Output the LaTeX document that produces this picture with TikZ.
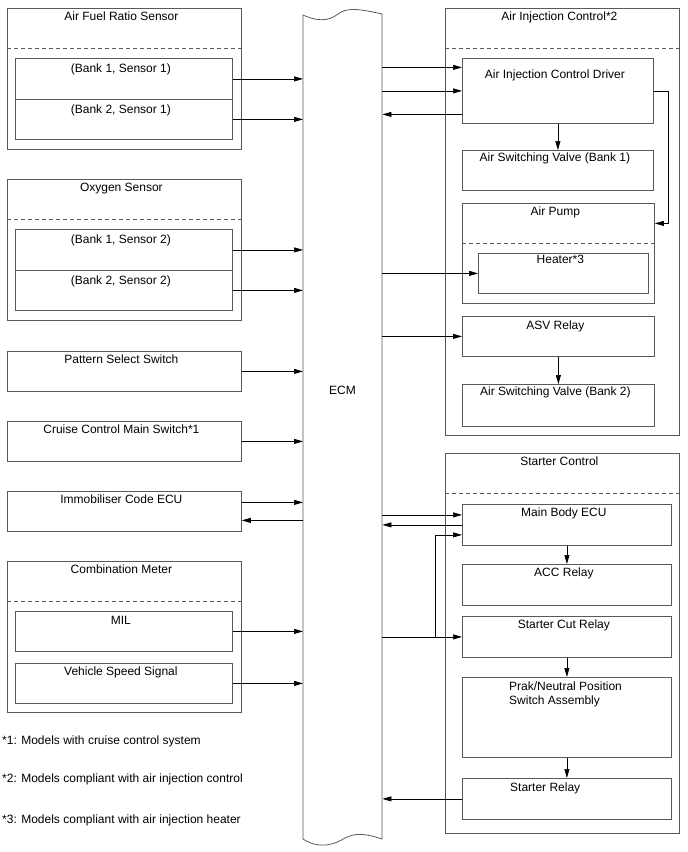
\documentclass[tikz,border=0pt]{standalone}
\usepackage{fontspec}
\setmainfont{Liberation Sans}
\usetikzlibrary{arrows.meta}
\tikzset{
  blk/.style={draw=black!65,line width=0.8pt,anchor=north west,inner sep=0pt},
  lbl/.style={anchor=north,inner sep=0pt,yshift=#1,xshift=-3pt},
  lbl/.default=-4pt,
  lft/.style={anchor=north west,inner sep=0pt,align=left,xshift=47pt,yshift=-5pt},
  sig/.style={-{Triangle[length=9pt,width=5pt]},line width=0.7pt},
  sep/.style={draw=black!65,line width=0.8pt,dash pattern=on 4pt off 3pt}
}
\begin{document}
\begin{tikzpicture}[x=1pt,y=-1pt,font=\fontsize{12pt}{14pt}\selectfont]
\useasboundingbox (0,0) rectangle (688,852);
% inputs
\node[blk,minimum width=234pt,minimum height=141pt,label={[lbl]north:Air Fuel Ratio Sensor}] (afr) at (7,8) {};
\draw[sep] ([yshift=-40pt]afr.north west) -- ([yshift=-40pt]afr.north east);
\node[blk,minimum width=217pt,minimum height=41pt,label={[lbl=-6pt]north:(Bank 1, Sensor 1)}] (b11) at (15,58) {};
\node[blk,minimum width=217pt,minimum height=40pt,label={[lbl=-6pt]north:(Bank 2, Sensor 1)}] (b21) at (15,99) {};
\node[blk,minimum width=234pt,minimum height=141pt,label={[lbl]north:Oxygen Sensor}] (oxs) at (7,179) {};
\draw[sep] ([yshift=-40pt]oxs.north west) -- ([yshift=-40pt]oxs.north east);
\node[blk,minimum width=217pt,minimum height=41pt,label={[lbl=-6pt]north:(Bank 1, Sensor 2)}] (b12) at (15,229) {};
\node[blk,minimum width=217pt,minimum height=40pt,label={[lbl=-6pt]north:(Bank 2, Sensor 2)}] (b22) at (15,270) {};
\node[blk,minimum width=234pt,minimum height=40pt,label={[lbl]north:Pattern Select Switch}] (pss) at (7,351) {};
\node[blk,minimum width=234pt,minimum height=40pt,label={[lbl]north:Cruise Control Main Switch*1}] (ccs) at (7,421) {};
\node[blk,minimum width=234pt,minimum height=40pt,label={[lbl]north:Immobiliser Code ECU}] (imm) at (7,491) {};
\node[blk,minimum width=234pt,minimum height=151pt,label={[lbl]north:Combination Meter}] (cmb) at (7,561) {};
\draw[sep] ([yshift=-40pt]cmb.north west) -- ([yshift=-40pt]cmb.north east);
\node[blk,minimum width=217pt,minimum height=40pt,label={[lbl=-5pt]north:MIL}] (mil) at (15,611) {};
\node[blk,minimum width=217pt,minimum height=40pt,label={[lbl]north:Vehicle Speed Signal}] (vss) at (15,663) {};
% ECM
\node[minimum width=79pt,minimum height=824pt,anchor=north west,inner sep=0pt] (ecm) at (303,15) {};
\draw[draw=black!65,line width=0.8pt] (303,15) .. controls (316,21) and (328,22) .. (338,14)
  .. controls (346,8) and (356,8) .. (382,14) -- (382,839)
  .. controls (364,833) and (355,833) .. (345,838)
  .. controls (335,844) and (320,850) .. (303,839) -- cycle;
\node (ecmtxt) at (342.5,390) {ECM};
% air injection
\node[blk,minimum width=234pt,minimum height=427pt,label={[lbl]north:Air Injection Control*2}] (aic) at (445,8) {};
\draw[sep] ([yshift=-40pt]aic.north west) -- ([yshift=-40pt]aic.north east);
\node[blk,minimum width=191pt,minimum height=65pt,label={[lbl=-12pt]north:Air Injection Control Driver}] (drv) at (462,58) {};
\node[blk,minimum width=191pt,minimum height=40pt,label={[lbl=-3pt]north:Air Switching Valve (Bank 1)}] (asv1) at (462,150) {};
\node[blk,minimum width=192pt,minimum height=100pt,label={[lbl]north:Air Pump}] (pump) at (462,203) {};
\draw[sep] ([yshift=-40pt]pump.north west) -- ([yshift=-40pt]pump.north east);
\node[blk,minimum width=170pt,minimum height=40pt,label={[lbl=-2pt]north:Heater*3}] (htr) at (478,253) {};
\node[blk,minimum width=192pt,minimum height=40pt,label={[lbl=-5pt]north:ASV Relay}] (asvr) at (462,316) {};
\node[blk,minimum width=192pt,minimum height=42pt,label={[lbl=-3pt]north:Air Switching Valve (Bank 2)}] (asv2) at (462,384) {};
% starter
\node[blk,minimum width=234pt,minimum height=380pt,label={[lbl]north:Starter Control}] (stc) at (445,453) {};
\draw[sep] ([yshift=-40pt]stc.north west) -- ([yshift=-40pt]stc.north east);
\node[blk,minimum width=209pt,minimum height=41pt,label={[lbl]north:Main Body ECU}] (mb) at (462,504) {};
\node[blk,minimum width=209pt,minimum height=41pt,label={[lbl]north:ACC Relay}] (acc) at (462,564) {};
\node[blk,minimum width=209pt,minimum height=41pt,label={[lbl]north:Starter Cut Relay}] (scr) at (462,616) {};
\node[blk,minimum width=209pt,minimum height=80pt,label={[lft]north west:Prak/Neutral Position\\Switch Assembly}] (pns) at (462,677) {};
\node[blk,minimum width=209pt,minimum height=41pt,label={[lft,xshift=1pt]north west:Starter Relay}] (sr) at (462,778) {};
% notes
\node[anchor=west,inner sep=0pt] (fn1) at (2,741) {*1: Models with cruise control system};
\node[anchor=west,inner sep=0pt] (fn2) at (2,779) {*2: Models compliant with air injection control};
\node[anchor=west,inner sep=0pt] (fn3) at (2,820) {*3: Models compliant with air injection heater};
% signals to ECM
\draw[sig] (b11.east) -- (b11.east -| ecm.west);
\draw[sig] (b21.east) -- (b21.east -| ecm.west);
\draw[sig] (b12.east) -- (b12.east -| ecm.west);
\draw[sig] (b22.east) -- (b22.east -| ecm.west);
\draw[sig] (pss.east) -- (pss.east -| ecm.west);
\draw[sig] (ccs.east) -- (ccs.east -| ecm.west);
\draw[sig] ([yshift=9pt]imm.east) -- ([yshift=9pt]imm.east -| ecm.west);
\draw[sig] ([yshift=-9pt]imm.east -| ecm.west) -- ([yshift=-9pt]imm.east);
\draw[sig] (mil.east) -- (mil.east -| ecm.west);
\draw[sig] (vss.east) -- (vss.east -| ecm.west);
% air injection lines
\draw[sig] ([yshift=23.5pt]drv.west -| ecm.east) -- ([yshift=23.5pt]drv.west);
\draw[sig] (drv.west -| ecm.east) -- (drv.west);
\draw[sig] ([yshift=-23.5pt]drv.west) -- ([yshift=-23.5pt]drv.west -| ecm.east);
\draw[sig] (drv.east) -- ++(15,0) |- ([yshift=30pt]pump.east);
\draw[sig] (drv.south) -- (asv1.north);
\draw[sig] (htr.west -| ecm.east) -- (htr.west);
\draw[sig] (asvr.west -| ecm.east) -- (asvr.west);
\draw[sig] (asvr.south) -- (asv2.north);
% starter lines
\draw[sig] ([yshift=10pt]mb.west -| ecm.east) -- ([yshift=10pt]mb.west);
\draw[sig] (mb.west) -- (mb.west -| ecm.east);
\draw[sig] (scr.west -| ecm.east) -- (scr.west);
\draw[sig] ([xshift=-27pt]scr.west) |- ([yshift=-10pt]mb.west);
\draw[sig] (mb.south) -- (acc.north);
\draw[sig] (scr.south) -- (pns.north);
\draw[sig] (pns.south) -- (sr.north);
\draw[sig] (sr.west) -- (sr.west -| ecm.east);
\end{tikzpicture}
\end{document}
